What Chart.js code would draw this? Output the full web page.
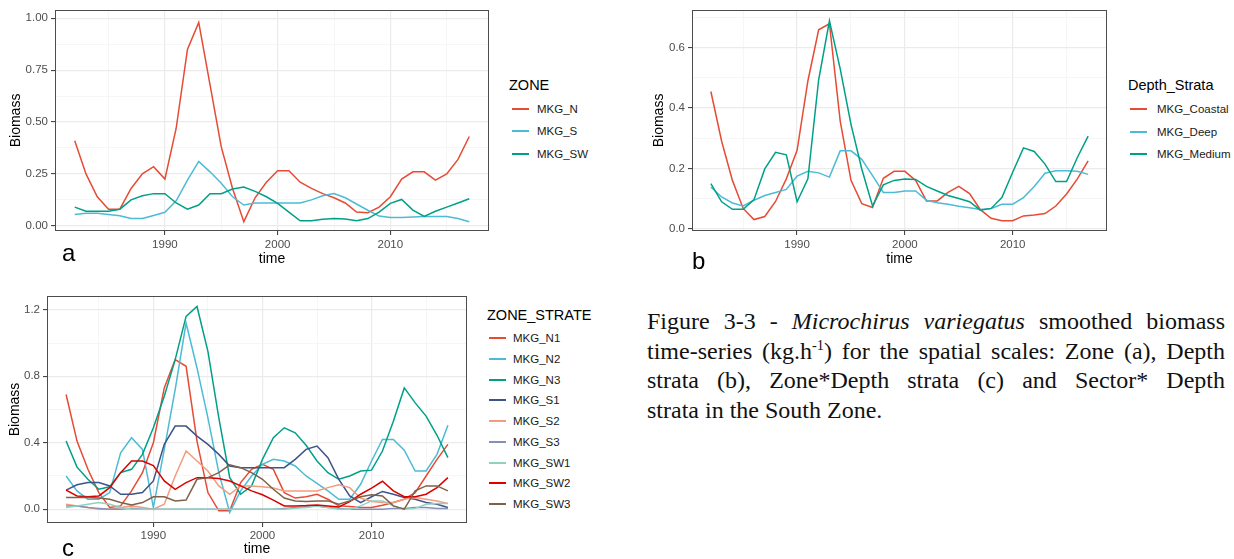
<!DOCTYPE html>
<html>
<head>
<meta charset="utf-8">
<script src="https://cdn.jsdelivr.net/npm/chart.js@4.4.1/dist/chart.umd.min.js"></script>
<style>
  html, body { margin: 0; padding: 0; background: #fff; }
  body { width: 1234px; height: 559px; position: relative; overflow: hidden;
         font-family: 'Liberation Sans', Arial, sans-serif; }
  canvas { position: absolute; }
  .lg-title { position: absolute; font-size: 14.5px; line-height: 18px; color: #000; white-space: nowrap; }
  .lg-item { position: absolute; font-size: 11.5px; line-height: 14px; color: #1a1a1a; white-space: nowrap; }
  .lg-key { position: absolute; height: 2px; width: 17px; }
  .tag { position: absolute; font-size: 24px; line-height: 24px; color: #000; }
  .caption { position: absolute; left: 647px; top: 307px; width: 578px;
             font-family: 'Liberation Serif', 'Times New Roman', serif; font-size: 24px; line-height: 29.5px; color: #111; }
  .caption div { text-align: justify; text-align-last: justify; }
  .caption div.last { text-align-last: left; }
  .caption sup { font-size: 0.6em; line-height: 0; vertical-align: 0.6em; }
</style>
</head>
<body>
<canvas id="chartA" width="492" height="270" style="left:0px;top:0px"></canvas>
<canvas id="chartB" width="480" height="270" style="left:630px;top:0px"></canvas>
<canvas id="chartC" width="470" height="279" style="left:0px;top:280px"></canvas>

<div class="tag" style="left:62px;top:241px">a</div>
<div class="tag" style="left:692px;top:249px">b</div>
<div class="tag" style="left:62px;top:536px">c</div>

<div class="caption">
  <div>Figure 3-3 - <i>Microchirus variegatus</i> smoothed biomass</div>
  <div>time-series (kg.h<sup>-1</sup>) for the spatial scales: Zone (a), Depth</div>
  <div>strata (b), Zone*Depth strata (c) and Sector* Depth</div>
  <div class="last">strata in the South Zone.</div>
</div>

<script>
// survey years (x axis)
const years = [1982, 1983, 1984, 1985, 1986, 1987, 1988, 1989, 1990, 1991,
               1992, 1993, 1994, 1995, 1996, 1997, 1998, 1999, 2000, 2001,
               2002, 2003, 2004, 2005, 2006, 2007, 2008, 2009, 2010, 2011,
               2012, 2013, 2014, 2015, 2016, 2017];

// panel a - ZONE
const zoneNames = ['MKG_N', 'MKG_S', 'MKG_SW'];
const zoneN  = [0.41, 0.25, 0.14, 0.08, 0.08, 0.18, 0.25, 0.285, 0.225, 0.47,
                0.85, 0.98, 0.68, 0.38, 0.18, 0.02, 0.135, 0.21, 0.265, 0.265,
                0.21, 0.18, 0.155, 0.135, 0.11, 0.066, 0.063, 0.09, 0.14, 0.225,
                0.26, 0.26, 0.22, 0.25, 0.32, 0.43];
const zoneS  = [0.055, 0.06, 0.06, 0.055, 0.048, 0.035, 0.035, 0.05, 0.065, 0.12,
                0.22, 0.31, 0.26, 0.205, 0.14, 0.10, 0.11, 0.11, 0.11, 0.11,
                0.11, 0.125, 0.145, 0.155, 0.135, 0.105, 0.075, 0.047, 0.04, 0.04,
                0.043, 0.045, 0.045, 0.045, 0.035, 0.02];
const zoneSW = [0.09, 0.07, 0.07, 0.07, 0.08, 0.125, 0.145, 0.155, 0.155, 0.11,
                0.08, 0.10, 0.155, 0.155, 0.177, 0.187, 0.166, 0.14, 0.108, 0.066,
                0.024, 0.024, 0.032, 0.035, 0.033, 0.024, 0.035, 0.066, 0.108, 0.127,
                0.076, 0.045, 0.07, 0.09, 0.11, 0.13];

// panel b - Depth_Strata
const depthNames = ['MKG_Coastal', 'MKG_Deep', 'MKG_Medium'];
const depthCoastal = [0.455, 0.29, 0.16, 0.067, 0.03, 0.04, 0.09, 0.165, 0.26, 0.49,
                      0.66, 0.68, 0.357, 0.16, 0.083, 0.07, 0.167, 0.19, 0.19, 0.16,
                      0.092, 0.092, 0.12, 0.14, 0.116, 0.063, 0.034, 0.026, 0.026, 0.042,
                      0.045, 0.05, 0.075, 0.115, 0.165, 0.225];
const depthDeep    = [0.138, 0.105, 0.085, 0.075, 0.094, 0.11, 0.12, 0.13, 0.174, 0.19,
                      0.185, 0.171, 0.258, 0.258, 0.23, 0.176, 0.12, 0.12, 0.125, 0.125,
                      0.094, 0.086, 0.081, 0.074, 0.069, 0.063, 0.067, 0.081, 0.081, 0.103,
                      0.14, 0.184, 0.192, 0.192, 0.19, 0.18];
const depthMedium  = [0.149, 0.089, 0.064, 0.064, 0.096, 0.198, 0.253, 0.245, 0.089, 0.165,
                      0.494, 0.69, 0.53, 0.346, 0.198, 0.075, 0.145, 0.16, 0.165, 0.163,
                      0.14, 0.125, 0.11, 0.10, 0.089, 0.061, 0.067, 0.103, 0.187, 0.268,
                      0.256, 0.214, 0.156, 0.156, 0.236, 0.307];

// panel c - ZONE_STRATE
const strateNames = ['MKG_N1', 'MKG_N2', 'MKG_N3', 'MKG_S1', 'MKG_S2', 'MKG_S3', 'MKG_SW1', 'MKG_SW2', 'MKG_SW3'];
const strateN1  = [0.69, 0.41, 0.24, 0.10, 0.01, 0.02, 0.11, 0.22, 0.40, 0.73,
                   0.90, 0.86, 0.41, 0.10, -0.01, -0.01, 0.16, 0.24, 0.27, 0.24,
                   0.10, 0.067, 0.075, 0.09, 0.06, 0.02, 0.016, 0.01, 0.01, 0.024,
                   0.04, 0.06, 0.10, 0.20, 0.30, 0.39];
const strateN2  = [0.20, 0.11, 0.06, 0.06, 0.10, 0.34, 0.43, 0.36, 0.01, 0.36,
                   0.72, 1.12, 0.85, 0.55, 0.22, -0.02, 0.11, 0.20, 0.27, 0.30,
                   0.29, 0.26, 0.20, 0.155, 0.11, 0.06, 0.06, 0.15, 0.29, 0.42,
                   0.42, 0.355, 0.23, 0.23, 0.33, 0.505];
const strateN3  = [0.41, 0.253, 0.18, 0.12, 0.135, 0.22, 0.24, 0.33, 0.49, 0.68,
                   0.90, 1.16, 1.22, 0.95, 0.55, 0.19, 0.09, 0.14, 0.30, 0.43,
                   0.49, 0.46, 0.385, 0.29, 0.22, 0.18, 0.20, 0.23, 0.235, 0.35,
                   0.53, 0.73, 0.64, 0.56, 0.445, 0.31];
const strateS1  = [0.115, 0.147, 0.16, 0.16, 0.14, 0.09, 0.09, 0.10, 0.17, 0.39,
                   0.50, 0.50, 0.44, 0.39, 0.33, 0.26, 0.25, 0.25, 0.25, 0.25,
                   0.25, 0.30, 0.36, 0.38, 0.31, 0.18, 0.08, 0.04, 0.075, 0.107,
                   0.09, 0.07, 0.06, 0.04, 0.03, 0.01];
const strateS2  = [0.03, 0.02, 0.01, 0.0, 0.0, 0.01, 0.02, 0.01, 0.0, 0.03,
                   0.20, 0.35, 0.29, 0.23, 0.14, 0.09, 0.14, 0.14, 0.135, 0.127,
                   0.11, 0.11, 0.11, 0.11, 0.13, 0.147, 0.13, 0.067, 0.046, 0.04,
                   0.04, 0.06, 0.07, 0.06, 0.05, 0.035];
const strateS3  = [0.02, 0.02, 0.01, 0.005, 0.0, 0.0, 0.005, 0.0, 0.0, 0.0,
                   0.0, 0.0, 0.0, 0.0, 0.0, 0.0, 0.0, 0.0, 0.0, 0.0,
                   0.005, 0.01, 0.015, 0.02, 0.01, 0.005, 0.0, 0.0, 0.0, 0.0,
                   0.005, 0.005, 0.01, 0.01, 0.005, 0.005];
const strateSW1 = [0.01, 0.02, 0.03, 0.04, 0.03, 0.01, 0.0, 0.0, 0.0, 0.0,
                   0.0, 0.0, 0.0, 0.0, 0.0, 0.0, 0.0, 0.0, 0.0, 0.0,
                   0.0, 0.005, 0.01, 0.02, 0.01, 0.0, 0.0, 0.02, 0.05, 0.05,
                   0.02, 0.0, 0.005, 0.03, 0.035, 0.035];
const strateSW2 = [0.115, 0.08, 0.075, 0.08, 0.13, 0.22, 0.29, 0.29, 0.263, 0.17,
                   0.12, 0.16, 0.19, 0.19, 0.185, 0.17, 0.14, 0.11, 0.087, 0.055,
                   0.02, 0.02, 0.022, 0.026, 0.02, 0.014, 0.046, 0.09, 0.127, 0.168,
                   0.11, 0.075, 0.075, 0.09, 0.13, 0.19];
const strateSW3 = [0.07, 0.07, 0.07, 0.067, 0.06, 0.04, 0.026, 0.04, 0.075, 0.075,
                   0.05, 0.055, 0.18, 0.19, 0.22, 0.267, 0.25, 0.22, 0.18, 0.12,
                   0.067, 0.05, 0.046, 0.05, 0.05, 0.03, 0.05, 0.075, 0.087, 0.08,
                   0.02, 0.0, 0.11, 0.14, 0.14, 0.11];

// tick values (major get a label, minor only a light grid line)
const xMajorTicks = [1990, 2000, 2010];
const xMinorTicks = [1985, 1995, 2005, 2015];
const aYMajorTicks = [0, 0.25, 0.5, 0.75, 1.0];
const aYMinorTicks = [0.125, 0.375, 0.625, 0.875];
const bYMajorTicks = [0, 0.2, 0.4, 0.6];
const bYMinorTicks = [0.1, 0.3, 0.5, 0.7];
const cYMajorTicks = [0, 0.4, 0.8, 1.2];
const cYMinorTicks = [0.2, 0.6, 1.0];

// ggsci npg palette
const npgColors = ['#E64B35', '#4DBBD5', '#00A087', '#3C5488', '#F39B7F', '#8491B4', '#91D1C2', '#DC0000', '#7E6148'];

Chart.defaults.font.family = "'Liberation Sans', Arial, sans-serif";

function tickList(major, minor) {
    return major.map(v => ({ value: v, major: true }))
        .concat(minor.map(v => ({ value: v, major: false })))
        .sort((p, q) => p.value - q.value);
}

const gridOpts = {
    color: c => (c.tick && c.tick.major) ? '#EBEBEB' : '#F4F4F4',
    lineWidth: c => (c.tick && c.tick.major) ? 1.2 : 0.8,
    tickColor: c => (c.tick && c.tick.major) ? '#333333' : 'rgba(0,0,0,0)',
    tickLength: 4,
    tickWidth: 1,
    drawTicks: true
};

// ggplot style border around the panel, drawn over the lines
const panelBorder = {
    id: 'panelBorder',
    afterDatasetsDraw(chart) {
        const a = chart.chartArea;
        const ctx = chart.ctx;
        ctx.save();
        ctx.strokeStyle = '#4d4d4d';
        ctx.lineWidth = 1;
        ctx.strokeRect(Math.round(a.left) + 0.5, Math.round(a.top) + 0.5,
                       Math.round(a.right - a.left) - 1, Math.round(a.bottom - a.top) - 1);
        ctx.restore();
    }
};

function buildChart(canvasId, names, series, o) {
    const ctx = document.getElementById(canvasId).getContext('2d');
    return new Chart(ctx, {
        type: 'line',
        data: {
            datasets: names.map((name, i) => ({
                label: name,
                data: series[i].map((v, k) => ({ x: years[k], y: v })),
                borderColor: npgColors[i],
                borderWidth: 1.5,
                pointRadius: 0,
                tension: 0,
                order: -i
            }))
        },
        options: {
            responsive: false,
            animation: false,
            events: [],
            layout: { padding: o.padding },
            plugins: { legend: { display: false }, tooltip: { enabled: false } },
            scales: {
                x: {
                    type: 'linear',
                    min: 1980.25,
                    max: 2018.75,
                    afterBuildTicks: s => { s.ticks = tickList(xMajorTicks, xMinorTicks); },
                    afterFit: s => { s.height = o.xHeight; },
                    grid: gridOpts,
                    border: { display: false },
                    ticks: {
                        autoSkip: false, maxRotation: 0, padding: o.xTickPad,
                        color: '#4D4D4D', font: { size: 11.5 },
                        callback: (v, i, t) => t[i].major ? String(v) : ''
                    },
                    title: { display: true, text: 'time', color: '#000', font: { size: 14 },
                             padding: { top: 0, bottom: o.xTitlePad } }
                },
                y: {
                    min: o.yMin,
                    max: o.yMax,
                    afterBuildTicks: s => { s.ticks = tickList(o.yMajor, o.yMinor); },
                    afterFit: s => { s.width = o.yWidth; },
                    grid: gridOpts,
                    border: { display: false },
                    ticks: {
                        padding: 3, color: '#4D4D4D', font: { size: 11.5 },
                        callback: (v, i, t) => t[i].major ? v.toFixed(o.yDigits) : ''
                    },
                    title: { display: true, text: 'Biomass', color: '#000', font: { size: 14 },
                             padding: { top: o.yTitlePad, bottom: 0 } }
                }
            }
        },
        plugins: [panelBorder]
    });
}

function addLegend(title, names, p) {
    const t = document.createElement('div');
    t.className = 'lg-title';
    t.textContent = title;
    t.style.left = p.titleX + 'px';
    t.style.top = (p.titleY - 9) + 'px';
    document.body.appendChild(t);
    names.forEach((name, i) => {
        const y = p.firstY + i * p.step;
        const key = document.createElement('div');
        key.className = 'lg-key';
        key.style.left = p.keyX + 'px';
        key.style.top = (y - 1) + 'px';
        key.style.background = npgColors[i];
        document.body.appendChild(key);
        const lab = document.createElement('div');
        lab.className = 'lg-item';
        lab.textContent = name;
        lab.style.left = p.textX + 'px';
        lab.style.top = (y - 7) + 'px';
        document.body.appendChild(lab);
    });
}

buildChart('chartA', zoneNames, [zoneN, zoneS, zoneSW], {
    padding: { left: 0, top: 7, right: 3, bottom: 0 },
    xHeight: 39, xTickPad: 3, xTitlePad: 2.6,
    yWidth: 55, yTitlePad: 7.5, yDigits: 2,
    yMin: -0.025, yMax: 1.04, yMajor: aYMajorTicks, yMinor: aYMinorTicks
});

buildChart('chartB', depthNames, [depthCoastal, depthDeep, depthMedium], {
    padding: { left: 0, top: 7, right: 3, bottom: 0 },
    xHeight: 39, xTickPad: 2.5, xTitlePad: 2.6,
    yWidth: 62, yTitlePad: 20.5, yDigits: 1,
    yMin: -0.008, yMax: 0.726, yMajor: bYMajorTicks, yMinor: bYMinorTicks
});

buildChart('chartC', strateNames,
    [strateN1, strateN2, strateN3, strateS1, strateS2, strateS3, strateSW1, strateSW2, strateSW3], {
    padding: { left: 0, top: 16, right: 3, bottom: 0 },
    xHeight: 36, xTickPad: 1.5, xTitlePad: 1.6,
    yWidth: 47, yTitlePad: 6.6, yDigits: 1,
    yMin: -0.083, yMax: 1.283, yMajor: cYMajorTicks, yMinor: cYMinorTicks
});

addLegend('ZONE', zoneNames, { titleX: 509, titleY: 85, keyX: 512, textX: 537, firstY: 109, step: 22.3 });
addLegend('Depth_Strata', depthNames, { titleX: 1128, titleY: 85, keyX: 1130, textX: 1157, firstY: 109, step: 22.5 });
addLegend('ZONE_STRATE', strateNames, { titleX: 487, titleY: 315, keyX: 489, textX: 513, firstY: 338.3, step: 20.7 });
</script>
</body>
</html>
